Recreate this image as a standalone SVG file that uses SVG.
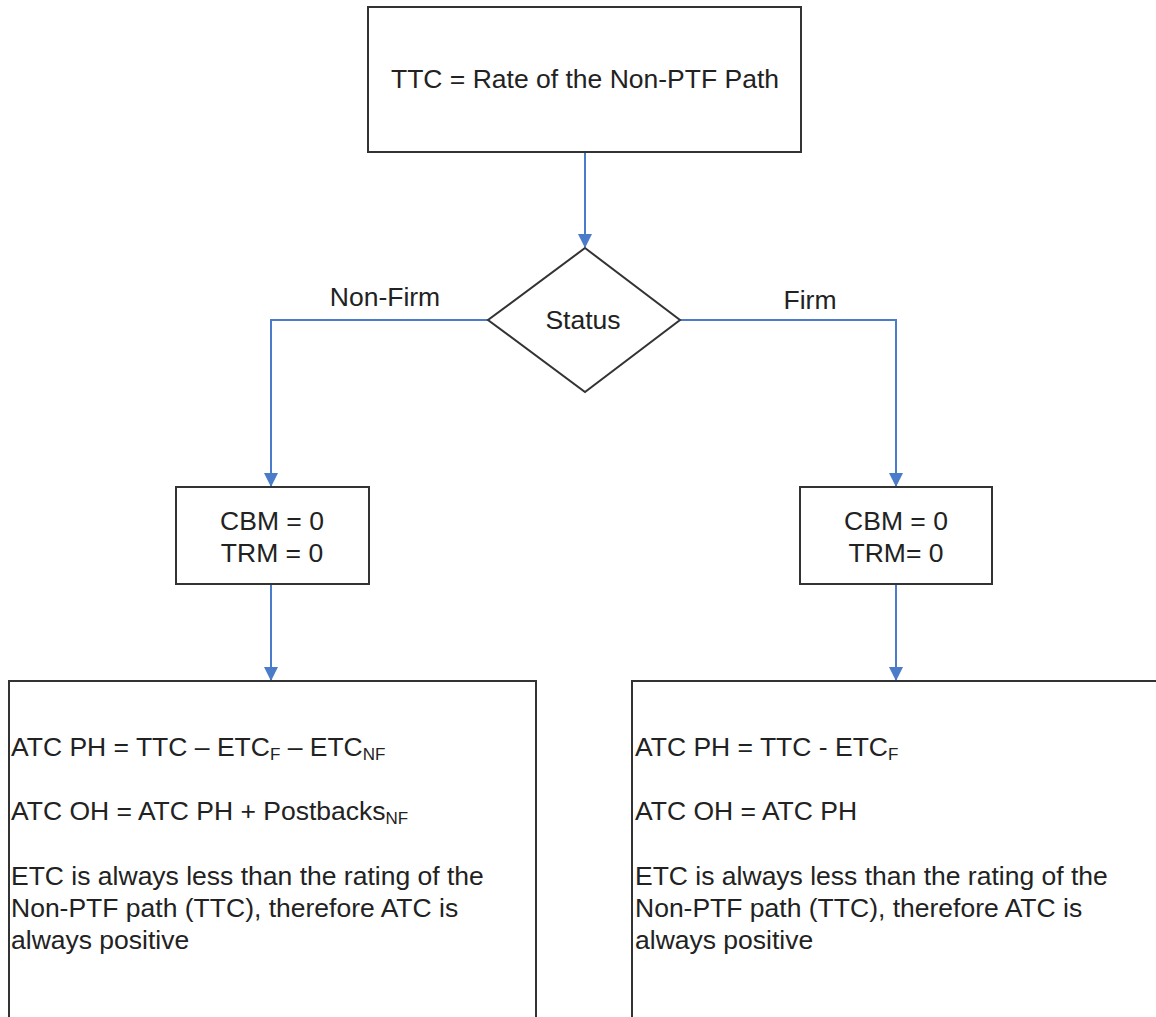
<svg xmlns="http://www.w3.org/2000/svg" width="1156" height="1017" viewBox="0 0 1156 1017">
<style>
text{font-family:"Liberation Sans",Arial,sans-serif;font-size:26.5px;fill:#222}
.box{fill:#fff;stroke:#333;stroke-width:2}
.conn{fill:none;stroke:#4a7cc9;stroke-width:2}
.sub{font-size:17px}
</style>
<defs>
<marker id="arr" markerWidth="14" markerHeight="16" refX="13" refY="7" orient="auto" markerUnits="userSpaceOnUse" viewBox="0 0 14 14">
<path d="M0,0 L14,7 L0,14 Z" fill="#4a7cc9"/>
</marker>
</defs>
<rect width="1156" height="1017" fill="#fff"/>
<g id="connectors">
<line class="conn" x1="585" y1="152" x2="585" y2="247" marker-end="url(#arr)"/>
<polyline class="conn" points="488,320 271,320 271,486" marker-end="url(#arr)"/>
<polyline class="conn" points="680,320 896,320 896,486" marker-end="url(#arr)"/>
<line class="conn" x1="271" y1="584" x2="271" y2="680" marker-end="url(#arr)"/>
<line class="conn" x1="896" y1="584" x2="896" y2="680" marker-end="url(#arr)"/>
<text x="385" y="306" text-anchor="middle">Non-Firm</text>
<text x="810" y="309" text-anchor="middle">Firm</text>
</g>
<g id="start">
<rect class="box" x="368" y="7" width="433" height="145"/>
<text x="585" y="88" text-anchor="middle">TTC = Rate of the Non-PTF Path</text>
</g>
<g id="status">
<polygon class="box" points="585,248 680,320 585,392 488,320"/>
<text x="583" y="329" text-anchor="middle">Status</text>
</g>
<g id="nonfirm-margins">
<rect class="box" x="176" y="487" width="193" height="97"/>
<text x="272" y="530" text-anchor="middle">CBM = 0</text>
<text x="272" y="562" text-anchor="middle">TRM = 0</text>
</g>
<g id="firm-margins">
<rect class="box" x="800" y="487" width="192" height="97"/>
<text x="896" y="530" text-anchor="middle">CBM = 0</text>
<text x="896" y="562" text-anchor="middle">TRM= 0</text>
</g>
<g id="nonfirm-atc">
<rect class="box" x="9" y="681" width="527" height="350"/>
<text x="11" y="756">ATC PH = TTC – ETC<tspan class="sub" dy="4">F</tspan><tspan dy="-4"> – ETC</tspan><tspan class="sub" dy="4">NF</tspan></text>
<text x="11" y="820">ATC OH = ATC PH + Postbacks<tspan class="sub" dy="4">NF</tspan></text>
<text x="11" y="885">ETC is always less than the rating of the</text>
<text x="11" y="917">Non-PTF path (TTC), therefore ATC is</text>
<text x="11" y="949">always positive</text>
</g>
<g id="firm-atc">
<rect class="box" x="632" y="681" width="540" height="350"/>
<text x="635" y="756">ATC PH = TTC - ETC<tspan class="sub" dy="4">F</tspan></text>
<text x="635" y="820">ATC OH = ATC PH</text>
<text x="635" y="885">ETC is always less than the rating of the</text>
<text x="635" y="917">Non-PTF path (TTC), therefore ATC is</text>
<text x="635" y="949">always positive</text>
</g>
</svg>
